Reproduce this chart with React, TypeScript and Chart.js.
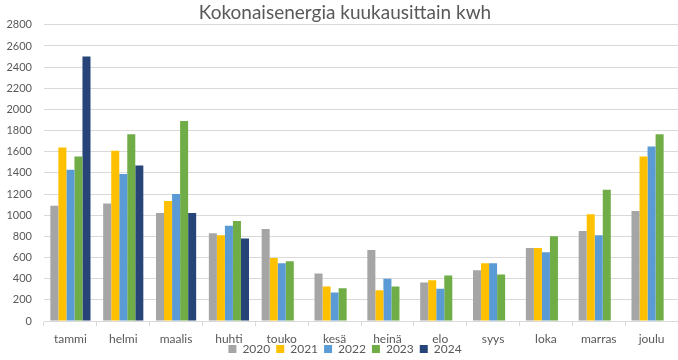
import React, { useEffect, useRef } from "react";
import { Chart, registerables } from "chart.js";

Chart.register(...registerables);

const categories = ["tammi", "helmi", "maalis", "huhti", "touko", "kesä", "heinä", "elo", "syys", "loka", "marras", "joulu"];
const yearLabels = ["2020", "2021", "2022", "2023", "2024"];
const v2020 = [1090, 1110, 1020, 830, 870, 450, 670, 365, 480, 690, 850, 1040];
const v2021 = [1640, 1610, 1135, 810, 595, 325, 290, 385, 545, 690, 1010, 1555];
const v2022 = [1430, 1390, 1200, 900, 545, 270, 400, 305, 545, 650, 810, 1650];
const v2023 = [1555, 1765, 1890, 945, 565, 310, 325, 430, 440, 800, 1240, 1765];
const v2024: (number | null)[] = [2500, 1470, 1020, 780, null, null, null, null, null, null, null, null];
const colors = ["#a5a5a5", "#ffc000", "#5b9bd5", "#70ad47", "#264478"];
const yTicks = { min: 0, max: 2800, step: 200 };

const LEGEND_SHIFT = 11;
const shiftLegend = {
  id: "shiftLegend",
  afterLayout(chart: any) {
    const l = chart.legend;
    if (l) {
      l.top -= LEGEND_SHIFT;
      l.bottom -= LEGEND_SHIFT;
    }
  },
};

export default function App() {
  const ref = useRef<HTMLCanvasElement | null>(null);
  useEffect(() => {
    document.body.style.margin = "0";
    const series = [v2020, v2021, v2022, v2023, v2024];
    const chart = new Chart(ref.current!, {
      type: "bar",
      data: {
        labels: categories,
        datasets: yearLabels.map((y, i) => ({
          label: y,
          data: series[i],
          backgroundColor: colors[i],
          borderWidth: 0,
          categoryPercentage: 0.76,
          barPercentage: 1.0,
          yAxisID: "y",
        })),
      },
      plugins: [shiftLegend],
      options: {
        animation: false,
        responsive: false,
        maintainAspectRatio: false,
        layout: { padding: { left: 0, right: 0, top: 0, bottom: 0 } },
        font: { family: "Lato" },
        plugins: {
          title: {
            display: true,
            text: "Kokonaisenergia kuukausittain kwh",
            color: "#595959",
            font: { family: "Lato", size: 19, weight: "normal" },
            padding: { top: 1, bottom: 1 },
          },
          legend: {
            position: "bottom",
            labels: {
              boxWidth: 8,
              boxHeight: 8,
              color: "#595959",
              font: { family: "Lato", size: 12 },
              padding: 6,
            },
          },
          tooltip: { enabled: false },
        },
        scales: {
          x: {
            grid: { drawOnChartArea: false, drawTicks: true, tickLength: 5, offset: true, color: "#d9d9d9" },
            border: { color: "#d9d9d9" },
            ticks: { color: "#595959", font: { family: "Lato", size: 12 }, padding: 6 },
            afterFit: (scale: any) => {
              scale.height = 27;
            },
          },
          y: {
            position: "left",
            min: yTicks.min,
            max: yTicks.max,
            ticks: {
              stepSize: yTicks.step,
              color: "#595959",
              font: { family: "Lato", size: 11 },
              padding: 12,
              callback: (v: any) => String(v),
            },
            grid: { color: "#d9d9d9", drawTicks: false },
            border: { display: false },
            afterFit: (scale: any) => {
              scale.width = 44;
            },
          },
          spacer: {
            type: "linear",
            position: "right",
            display: true,
            ticks: { display: false },
            grid: { display: false },
            border: { display: false },
            afterFit: (scale: any) => {
              scale.width = 12;
            },
          },
        },
      },
    });
    return () => chart.destroy();
  }, []);
  return (
    <div style={{ width: 678, height: 360, overflow: "hidden" }}>
      <canvas ref={ref} width={690} height={376} style={{ display: "block" }} />
    </div>
  );
}
